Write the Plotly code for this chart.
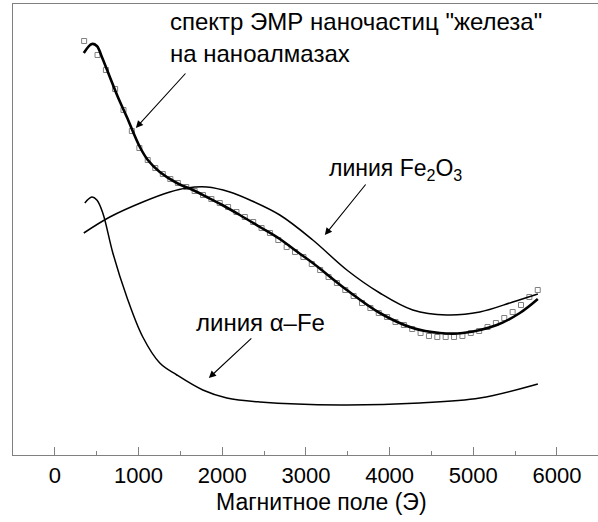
import plotly.graph_objects as go

# ---- data (intensity in arbitrary units) ----
fit_H = [346, 442, 502, 562, 657, 753, 860, 1016, 1111, 1254, 1458, 1649, 1816, 2000,
         2210, 2450, 2688, 2900, 3082, 3489, 3883, 4277, 4600, 4875, 5281, 5556, 5771]
fit_I = [402, 411, 409, 398, 378, 358, 338, 308, 295, 283, 272, 265, 258, 250,
         240, 228, 216, 203, 192, 165, 142, 127, 122, 122, 130, 142, 156]

fe2o3_H = [346, 657, 1051, 1374, 1577, 1816, 2091, 2330, 2688, 3082, 3489, 3883,
           4277, 4683, 5078, 5472, 5771]
fe2o3_I = [222, 238, 253, 263, 267, 268, 263, 255, 240, 215, 185, 162,
           145, 140, 143, 153, 161]

afe_H = [358, 442, 502, 573, 693, 860, 1051, 1254, 1458, 1768, 2055, 2449,
         3405, 4361, 5078, 5771]
afe_I = [252, 258, 255, 242, 202, 158, 118, 92, 80, 65, 57, 53,
         50, 52, 57, 71]

exp_H = [350, 510, 610, 720, 820, 920, 1010, 1110, 1200, 1290, 1380, 1470, 1570,
         1670, 1770, 1870, 1970, 2070, 2170, 2270, 2370, 2470, 2570, 2670, 2770,
         2870, 2970, 3070, 3170, 3270, 3370, 3470, 3570, 3670, 3770, 3870, 3970,
         4070, 4170, 4270, 4370, 4470, 4570, 4670, 4770, 4870, 4970, 5070, 5170,
         5270, 5370, 5470, 5570, 5670, 5770]
exp_I = [414, 400, 385, 366, 345, 324, 307, 295, 287, 281, 276, 272, 268,
         264, 260, 256, 252, 248, 243, 238, 233, 227, 222, 215, 208,
         203, 198, 191, 185, 178, 172, 165, 159, 152, 147, 142, 138,
         133, 130, 126, 122, 119, 118, 118, 118, 119, 122, 124, 128,
         132, 137, 143, 150, 158, 165]

x_ticks = [0, 1000, 2000, 3000, 4000, 5000, 6000]
x_label = "Магнитное поле (Э)"
label_fit = ["спектр ЭМР наночастиц \"железа\"", "на наноалмазах"]
label_fe2o3 = "линия Fe<sub>2</sub>O<sub>3</sub>"
label_afe = "линия α–Fe"

FONT = "Liberation Sans, Arial, sans-serif"
AX = "#808080"

fig = go.Figure()
fig.add_trace(go.Scatter(x=exp_H, y=exp_I, mode="markers",
                         marker=dict(symbol="square-open", size=5, color="#808080",
                                     line=dict(width=1, color="#808080")),
                         hoverinfo="skip"))
fig.add_trace(go.Scatter(x=fit_H, y=fit_I, mode="lines",
                         line=dict(color="black", width=2.6, shape="spline", smoothing=1.0)))
fig.add_trace(go.Scatter(x=fe2o3_H, y=fe2o3_I, mode="lines",
                         line=dict(color="black", width=1.5, shape="spline", smoothing=1.0)))
fig.add_trace(go.Scatter(x=afe_H, y=afe_I, mode="lines",
                         line=dict(color="black", width=1.5, shape="spline", smoothing=1.0)))

# labels
fig.add_annotation(x=1350, y=434, xref="x", yref="y", text=label_fit[0], showarrow=False,
                   xanchor="left", yanchor="middle", font=dict(family=FONT, size=24, color="black"))
fig.add_annotation(x=1350, y=402, xref="x", yref="y", text=label_fit[1], showarrow=False,
                   xanchor="left", yanchor="middle", font=dict(family=FONT, size=24, color="black"))
fig.add_annotation(x=3250, y=286, xref="x", yref="y", text=label_fe2o3, showarrow=False,
                   xanchor="left", yanchor="middle", font=dict(family=FONT, size=23, color="black"))
fig.add_annotation(x=1660, y=133, xref="x", yref="y", text=label_afe, showarrow=False,
                   xanchor="left", yanchor="middle", font=dict(family=FONT, size=24, color="black"))

# arrows
for hx, hy, tx, ty in [(968, 327, 1577, 383), (3226, 220, 3728, 272), (1840, 77, 2366, 118)]:
    fig.add_annotation(x=hx, y=hy, ax=tx, ay=ty, xref="x", yref="y", axref="x", ayref="y",
                       text="", showarrow=True, arrowhead=2, arrowsize=1.3, arrowwidth=1.1,
                       arrowcolor="black")

# axis title
fig.add_annotation(x=3190, y=0, xref="x", yref="paper", yshift=-47, text=x_label,
                   showarrow=False, xanchor="center", yanchor="middle",
                   font=dict(family=FONT, size=23, color="black"))

fig.update_xaxes(range=[-500, 6490], tickvals=x_ticks, ticks="inside", ticklen=8,
                 tickwidth=1.2, tickcolor=AX, showline=True, linecolor=AX, linewidth=1.3,
                 mirror=True, showgrid=False, zeroline=False,
                 tickfont=dict(family=FONT, size=22, color="black"),
                 minor=dict(ticks="inside", ticklen=4, dtick=500, tick0=0, tickcolor=AX,
                            tickwidth=1.2, showgrid=False))
fig.update_yaxes(range=[0, 451], showline=True, linecolor=AX, linewidth=1.3, mirror=False,
                 showticklabels=False, ticks="", showgrid=False, zeroline=False)

fig.update_layout(width=598, height=522, margin=dict(l=13, r=0, t=4, b=67),
                  paper_bgcolor="white", plot_bgcolor="white", showlegend=False,
                  font=dict(family=FONT))
fig.write_html("out.html")
